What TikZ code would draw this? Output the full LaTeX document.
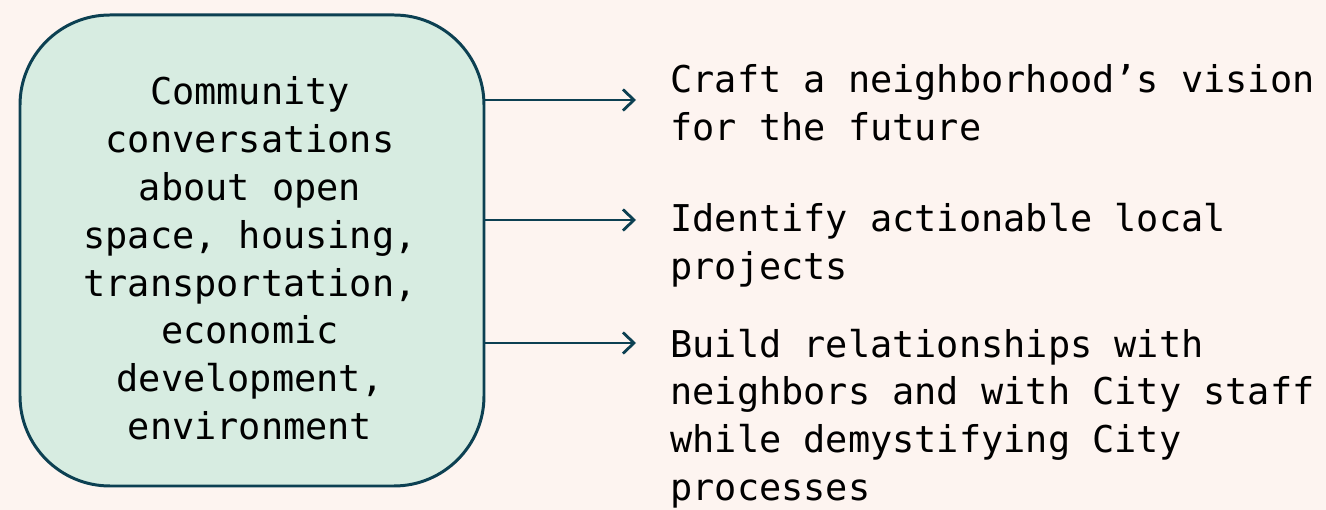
\documentclass[tikz,border=0pt]{standalone}
\usepackage{fontspec}
\setmonofont{DejaVu Sans Mono}
\usepackage{tikz}
\usetikzlibrary{arrows.meta}
\definecolor{bgpink}{HTML}{FDF4F0}
\definecolor{boxgreen}{HTML}{D7ECE1}
\definecolor{inkteal}{HTML}{0C4052}
\pgfdeclarelayer{bg}
\pgfsetlayers{bg,main}

\begin{document}
\begin{tikzpicture}[
        every node/.style={font=\ttfamily\fontsize{21}{27.2}\selectfont, text=black},
        topic/.style={draw=inkteal, line width=1.7pt, fill=boxgreen, rounded corners=1.8cm,
                minimum width=9.28cm, minimum height=9.42cm, inner sep=0pt},
        goal/.style={anchor=base west, align=left, inner sep=0pt},
        link/.style={draw=inkteal, line width=1.6pt, -{Straight Barb[length=2.2mm,width=4.2mm]}}]
        \useasboundingbox (0cm, 0cm) rectangle (26.520000cm, -10.200000cm);
        \node (topic) [topic] at (5.040000cm, -5.010000cm) {};
        \node (topictext) [align=center, inner sep=0pt] at (5.000000cm, -5.170000cm) {Community\\conversations\\about open\\space, housing,\\transportation,\\economic\\development,\\environment};
        % base of a multi-line node is its last line
        \node (g1) [goal] at (13.400000cm, -2.810000cm) {Craft a neighborhood’s vision\\for the future};
        \node (g2) [goal] at (13.400000cm, -5.590000cm) {Identify actionable local\\projects};
        \node (g3) [goal] at (13.400000cm, -10.010000cm) {Build relationships with\\neighbors and with City staff\\while demystifying City\\processes};
        \coordinate (t1) at (12.720000cm, -2.000000cm);
        \coordinate (t2) at (12.720000cm, -4.400000cm);
        \coordinate (t3) at (12.720000cm, -6.860000cm);
        \begin{pgfonlayer}{bg}
                \fill [bgpink] (0cm, 0cm) rectangle (26.520000cm, -10.200000cm);
                \draw (topic.east |- t1) edge [link] (t1);
                \draw (topic.east |- t2) edge [link] (t2);
                \draw (topic.east |- t3) edge [link] (t3);
        \end{pgfonlayer}
\end{tikzpicture}
\end{document}
